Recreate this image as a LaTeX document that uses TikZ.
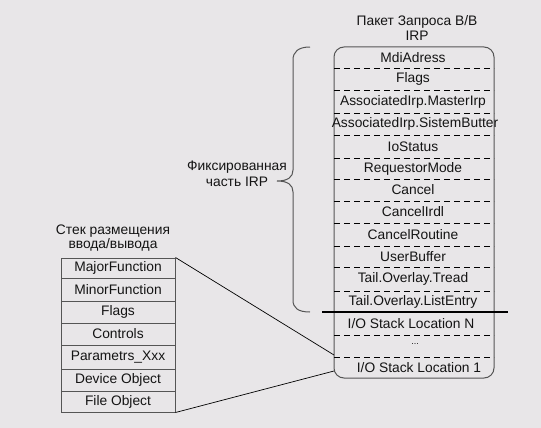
\documentclass[tikz,border=0pt]{standalone}
\usepackage{fontspec}
\setmainfont{Liberation Sans}
\definecolor{bgc}{RGB}{232,230,232}
\definecolor{txt}{RGB}{20,20,20}
\definecolor{edge}{RGB}{85,85,85}
\tikzset{
  lbl/.style={font=\fontsize{13.8}{15}\selectfont, text=txt, inner sep=0pt},
  dashdiv/.style={draw=black, line width=0.8pt, dash pattern=on 6pt off 4pt},
  stkdiv/.style={draw=edge, line width=1pt},
  conn/.style={draw=black, line width=0.7pt}
}
\begin{document}
\begin{tikzpicture}[x=1pt,y=-1pt]
\fill[bgc] (0,0) rectangle (541,428);
\useasboundingbox (0,0) rectangle (541,428);
% IRP title
\node[lbl] (t1) at (417,22) {Пакет Запроса В/В};
\node[lbl] (t2) at (417,36) {IRP};
% IRP box
\node[draw=edge, line width=1pt, rounded corners=10pt, minimum width=160pt, minimum height=331pt, inner sep=0pt] (irp) at (414,212.5) {};
\foreach \y in {68,90,113,135,158,179,201,223,246,267,291,335,357}
  \draw[dashdiv] (334,\y) -- (494,\y);
\draw[line width=2.2pt] (322,312) -- (508,312);
\foreach \x/\y/\t [count=\i] in {
  413/57.5/MdiAdress,
  413/79/Flags,
  413/101.5/AssociatedIrp.MasterIrp,
  415/124/AssociatedIrp.SistemButter,
  413/146.5/IoStatus,
  413/168.5/RequestorMode,
  413/190/Cancel,
  413/212/CancelIrdl,
  413/234.5/CancelRoutine,
  413/256.5/UserBuffer,
  413/279/Tail.Overlay.Tread,
  413/301.5/Tail.Overlay.ListEntry,
  411/323.5/{I/O Stack Location N},
  419/367.5/{I/O Stack Location 1}}
  \node[lbl] (r\i) at (\x,\y) {\t};
\node[lbl, font=\fontsize{9}{10}\selectfont] (rdots) at (415,344) {...};
% brace
\draw[line width=1pt, edge] (310,47) .. controls (298,47) and (293,52) .. (293,60)
  -- (293,170) .. controls (293,177) and (288,181) .. (277,181)
  .. controls (288,181) and (293,185) .. (293,192)
  -- (293,300) .. controls (293,308) and (298,312) .. (310,312);
\node[lbl] (f1) at (237,167) {Фиксированная};
\node[lbl] (f2) at (237,182) {часть IRP};
% stack
\node[lbl] (s1) at (113,231) {Стек размещения};
\node[lbl] (s2) at (113,245) {ввода/вывода};
\node[draw=edge, line width=1pt, minimum width=114pt, minimum height=154pt, inner sep=0pt] (stk) at (118,335) {};
\foreach \y in {278,301,323,345,369,391}
  \draw[stkdiv] (61,\y) -- (175,\y);
\foreach \y/\t [count=\i] in {
  268/MajorFunction,
  289.5/MinorFunction,
  312/Flags,
  334/Controls,
  357/Parametrs\_Xxx,
  380/Device Object,
  401.5/File Object}
  \node[lbl] (k\i) at (118,\y) {\t};
% connectors
\coordinate (p1) at (334,355);
\coordinate (p2) at (334,371);
\draw[conn] (stk.north east) -- (p1);
\draw[conn] (stk.south east) -- (p2);
\end{tikzpicture}
\end{document}
